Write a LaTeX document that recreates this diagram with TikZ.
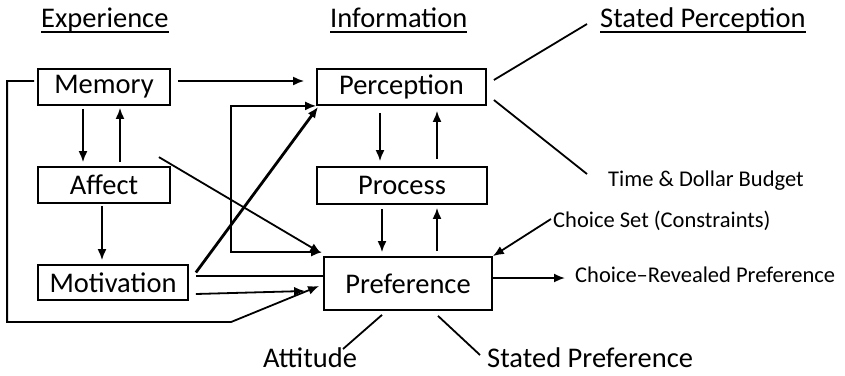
\documentclass[tikz,border=0pt]{standalone}
\usepackage{fontspec}
\setmainfont{Carlito}
\usetikzlibrary{arrows.meta}

\begin{document}
\begin{tikzpicture}[x=1pt,y=-1pt,
  box/.style={draw,line width=1.8pt,inner sep=0pt,font=\fontsize{28.5}{30}\selectfont},
  big/.style={inner sep=0pt,font=\fontsize{28.5}{30}\selectfont},
  small/.style={inner sep=0pt,font=\fontsize{22.5}{24}\selectfont},
  link/.style={line width=1.8pt},
  arr/.style={line width=1.8pt,-{Latex[length=11pt,width=9pt]}},
  arrboth/.style={line width=1.8pt,{Latex[length=11pt,width=9pt]}-{Latex[length=11pt,width=9pt]}}]
\useasboundingbox (0,0) rectangle (845,375);

% headers
\node[big,anchor=base west] (experience) at (41,27) {Experience};
\node[big,anchor=base west] (information) at (330,27) {Information};
\node[big,anchor=base west] (statedperc) at (600,27) {Stated Perception};
\foreach \h in {experience,information,statedperc}
  \draw[line width=1.8pt] ([yshift=-5pt]\h.base west) -- ([yshift=-5pt]\h.base east);

% boxes
\node[box,minimum width=132pt,minimum height=36pt] (memory) at (104,87) {Memory};
\node[box,minimum width=132pt,minimum height=36pt] (affect) at (104,185) {Affect};
\node[box,minimum width=150pt,minimum height=35pt] (motivation) at (113,282.5) {Motivation};
\node[box,minimum width=169pt,minimum height=36pt] (perception) at (401.5,87) {Perception};
\node[box,minimum width=170pt,minimum height=37pt] (process) at (402,185.5) {Process};
\node[box,minimum width=168pt,minimum height=53pt] (preference) at (408,283.5) {Preference};

% outer labels
\node[small,anchor=base west] (budget) at (608,186) {Time \& Dollar Budget};
\node[small,anchor=base west] (choiceset) at (553,227) {Choice Set (Constraints)};
\node[small,anchor=base west] (revealed) at (575,282) {Choice--Revealed Preference};
\node[big,anchor=base west] (attitude) at (263,367) {Attitude};
\node[big,anchor=base west] (statedpref) at (487,367) {Stated Preference};

% experience side
\draw[arr] ([xshift=7pt,yshift=6pt]memory.east) -- ([xshift=-12pt,yshift=6pt]perception.west);
\draw[arr] ([xshift=-21pt,yshift=-3pt]memory.south) -- ([xshift=-21pt,yshift=4pt]affect.north);
\draw[arr] ([xshift=16pt,yshift=4pt]affect.north) -- ([xshift=16pt,yshift=-2pt]memory.south);
\draw[arr] ([xshift=-2pt,yshift=-2pt]affect.south) -- ([xshift=-11pt,yshift=4pt]motivation.north);
\draw[arr] ([xshift=-12pt,yshift=9pt]affect.north east) -- ([xshift=-2pt,yshift=3pt]preference.north west);
\draw[arrboth] (perception.south west) -- ++(-85,0) |- ([xshift=-1pt,yshift=4pt]preference.north west);
\draw[arr,line width=2.8pt] ([xshift=7pt,yshift=10pt]motivation.east) -- ([xshift=2pt,yshift=-1pt]perception.south west);
\draw[line width=2.8pt] ([xshift=7pt,yshift=6.5pt]motivation.east) -- ([yshift=7.5pt]preference.west);
\draw[arr] ([xshift=7pt,yshift=-11.5pt]motivation.east) -- ([xshift=-18pt,yshift=-7.5pt]preference.west);
\draw[arr] ([xshift=-3pt,yshift=6pt]memory.west) -- ++(-27,0) -- ++(0,241) -- ++(224,0) -- ([xshift=-4pt,yshift=-2.5pt]preference.west);

% information side
\draw[arr] ([xshift=-21.5pt,yshift=-7pt]perception.south) -- ([xshift=-22pt,yshift=5pt]process.north);
\draw[arr] ([xshift=35pt,yshift=7pt]process.north) -- ([xshift=35.5pt,yshift=-5pt]perception.south);
\draw[arr] ([xshift=-20pt,yshift=-4pt]process.south) -- ([xshift=-26pt,yshift=4pt]preference.north);
\draw[arr] ([xshift=29pt,yshift=5pt]preference.north) -- ([xshift=35pt,yshift=-3pt]process.south);

% outputs
\draw[link] ([xshift=7pt,yshift=7pt]perception.east) -- ([xshift=-13pt,yshift=3pt]statedperc.base west);
\draw[link] ([xshift=7pt,yshift=-13pt]perception.east) -- ([xshift=-21pt,yshift=12pt]budget.base west);
\draw[arr] ([xshift=-2pt,yshift=8pt]choiceset.base west) -- (preference.north east);
\draw[arr] ([yshift=5.5pt]preference.east) -- ([xshift=-10pt,yshift=4pt]revealed.base west);
\draw[link] ([xshift=-26pt,yshift=-4pt]preference.south) -- ([xshift=80pt,yshift=18pt]attitude.base west);
\draw[link] ([xshift=30pt,yshift=-5pt]preference.south) -- ([xshift=-7pt,yshift=12pt]statedpref.base west);
\end{tikzpicture}
\end{document}
